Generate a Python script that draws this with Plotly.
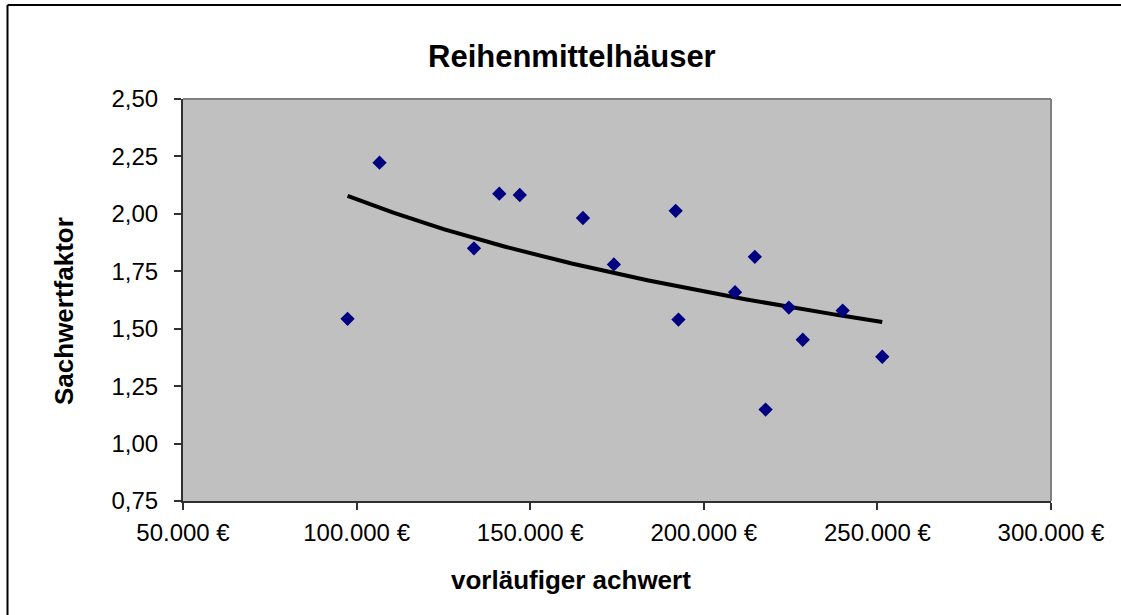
import numpy as np
import plotly.graph_objects as go

# Vorläufiger Sachwert (EUR) und Sachwertfaktor je Objekt
vorlaeufiger_sachwert = [97400, 106600, 133800, 141100, 147000, 165200, 174100, 191900,
                         192700, 209000, 214700, 217800, 224500, 228500, 240000, 251400]
sachwertfaktor = [1.543, 2.223, 1.850, 2.088, 2.082, 1.982, 1.780, 2.013,
                  1.540, 1.659, 1.813, 1.148, 1.592, 1.452, 1.579, 1.378]

x_ticks = [50000, 100000, 150000, 200000, 250000, 300000]
x_ticktext = ["50.000 €", "100.000 €", "150.000 €", "200.000 €", "250.000 €", "300.000 €"]
y_ticks = [0.75, 1.00, 1.25, 1.50, 1.75, 2.00, 2.25, 2.50]
y_ticktext = ["0,75", "1,00", "1,25", "1,50", "1,75", "2,00", "2,25", "2,50"]

# logarithmische Trendlinie y = a*ln(x) + b
xs = np.array(vorlaeufiger_sachwert, dtype=float)
ys = np.array(sachwertfaktor, dtype=float)
a, b = np.polyfit(np.log(xs), ys, 1)
trend_x = np.linspace(xs.min(), xs.max(), 200)
trend_y = a * np.log(trend_x) + b

W, H = 1121, 615
L, R, T, B = 183, 1051, 99, 501

fig = go.Figure()
fig.add_trace(go.Scatter(
    x=trend_x, y=trend_y, mode="lines",
    line=dict(color="black", width=4), hoverinfo="skip", showlegend=False,
))
fig.add_trace(go.Scatter(
    x=vorlaeufiger_sachwert, y=sachwertfaktor, mode="markers",
    marker=dict(symbol="diamond", size=11, color="#000080", line=dict(width=0)),
    showlegend=False,
))

font = "Liberation Sans, Arial, sans-serif"


def px_x(p):
    return (p - L) / (R - L)


def px_y(p):
    return (B - p) / (B - T)


fig.update_layout(
    width=W, height=H,
    margin=dict(l=L, r=W - R, t=T, b=H - B),
    paper_bgcolor="white", plot_bgcolor="#C0C0C0",
    font=dict(family=font, color="black", size=24),
    xaxis=dict(
        range=[50000, 300000], tickvals=x_ticks, ticktext=x_ticktext,
        showgrid=False, zeroline=False, showline=True, linecolor="#303030", linewidth=2,
        ticks="outside", ticklen=7, tickcolor="#303030", tickwidth=1.5,
        ticklabelstandoff=2, tickfont=dict(size=24),
    ),
    yaxis=dict(
        range=[0.75, 2.5], tickvals=y_ticks, ticktext=y_ticktext,
        showgrid=False, zeroline=False, showline=True, linecolor="#303030", linewidth=2,
        ticks="outside", ticklen=7, tickcolor="#303030", tickwidth=1.5,
        ticklabelstandoff=11, tickfont=dict(size=24),
    ),
    shapes=[
        # obere und rechte Kante der Zeichenfläche
        dict(type="line", xref="paper", yref="paper", x0=0, x1=1, y0=1, y1=1,
             line=dict(color="#808080", width=2)),
        dict(type="line", xref="paper", yref="paper", x0=1, x1=1, y0=0, y1=1,
             line=dict(color="#808080", width=2)),
        # Diagrammrahmen
        dict(type="line", xref="paper", yref="paper", x0=px_x(7.5), x1=px_x(1125),
             y0=px_y(5), y1=px_y(5), line=dict(color="black", width=2)),
        dict(type="line", xref="paper", yref="paper", x0=px_x(7.5), x1=px_x(7.5),
             y0=px_y(5), y1=px_y(620), line=dict(color="black", width=2)),
    ],
    annotations=[
        dict(text="<b>Reihenmittelhäuser</b>", xref="paper", yref="paper",
             x=px_x(571.5), y=px_y(57), xanchor="center", yanchor="middle",
             showarrow=False, font=dict(size=31)),
        dict(text="<b>vorläufiger achwert</b>", xref="paper", yref="paper",
             x=px_x(571), y=px_y(580), xanchor="center", yanchor="middle",
             showarrow=False, font=dict(size=26)),
        dict(text="<b>Sachwertfaktor</b>", xref="paper", yref="paper",
             x=px_x(64), y=px_y(311), xanchor="center", yanchor="middle",
             textangle=-90, showarrow=False, font=dict(size=26)),
    ],
)

fig.write_html("out.html")
